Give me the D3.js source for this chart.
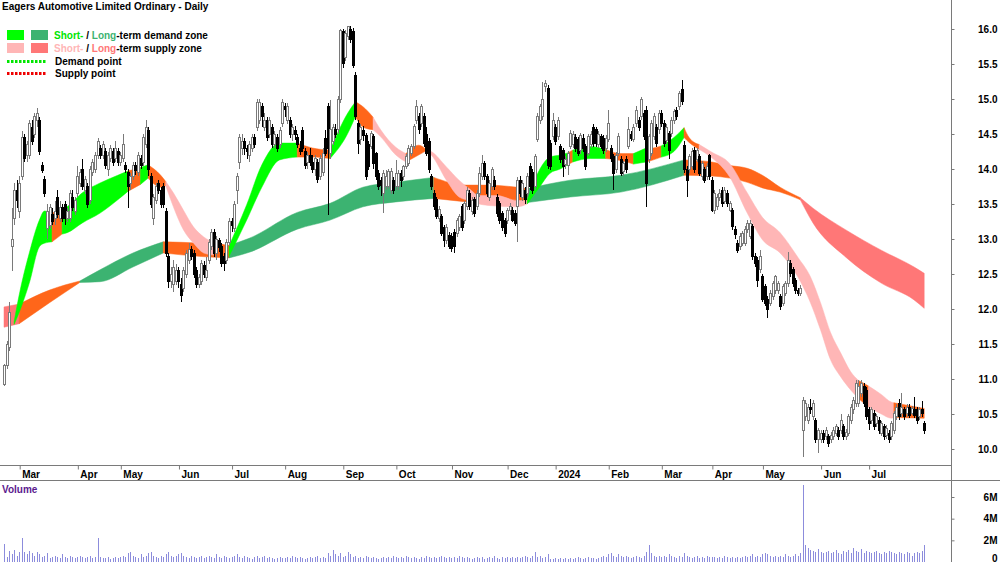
<!DOCTYPE html>
<html><head><meta charset="utf-8">
<script src="https://cdn.jsdelivr.net/npm/d3@7"></script>
<style>
body{margin:0;background:#fff}
svg{display:block}
text{font-family:"Liberation Sans",Arial,sans-serif;font-weight:bold;font-size:10px}
</style>
</head><body>
<svg id="c" width="1000" height="562"></svg>
<script>
// ---------- DATA ----------
const title = "Eagers Automotive Limited Ordinary - Daily";
const monthLabels = ["Mar","Apr","May","Jun","Jul","Aug","Sep","Oct","Nov","Dec","2024","Feb","Mar","Apr","May","Jun","Jul"];
const monthIdx    = [7,30,47,70,91,112,135,156,178,200,219,240,261,281,301,324,343];
const priceTicks  = [10,10.5,11,11.5,12,12.5,13,13.5,14,14.5,15,15.5,16];
const volTicks    = [0,2,4,6];
const volTickLabels = ["0","2M","4M","6M"];

// daily bars [open, high, low, close]  (Feb 2023 - Aug 2023)
const ohlcA = [
[10.92,11.22,10.9,11.2],[11.2,11.55,11.15,11.5],[11.45,12.1,11.4,11.95],[12.9,13.45,12.55,13.0],[13.3,13.8,13.2,13.7],
[13.7,13.85,13.45,13.55],[13.4,13.9,13.3,13.8],[13.9,14.55,13.85,14.45],[14.45,14.5,14.1,14.15],[14.2,14.4,14.1,14.35],
[14.2,14.7,14.15,14.65],[14.6,14.7,14.35,14.4],[14.5,14.8,14.45,14.75],[14.7,14.87,14.6,14.8],[14.7,14.75,14.2,14.25],
[14.05,14.1,13.95,13.98],[13.85,13.9,13.6,13.65],[13.15,13.5,13.0,13.4],[13.2,13.5,13.15,13.45],[13.35,13.45,13.2,13.25],
[13.3,13.55,13.2,13.4],[13.6,13.7,13.3,13.35],[13.3,13.55,13.25,13.45],[13.45,13.5,13.25,13.3],[13.5,13.55,13.2,13.3],
[13.3,13.45,13.25,13.4],[13.3,13.7,13.25,13.65],[13.6,13.7,13.4,13.45],[13.4,13.6,13.35,13.55],[13.65,14.05,13.6,13.9],
[13.8,14.0,13.75,13.95],[14.0,14.15,13.7,13.75],[13.7,13.9,13.65,13.85],[13.75,13.8,13.45,13.5],[13.55,14.05,13.5,14.0],
[13.95,14.15,13.9,14.1],[14.0,14.25,13.95,14.2],[14.2,14.45,14.15,14.4],[14.3,14.35,14.15,14.2],[14.2,14.4,14.15,14.35],
[14.25,14.3,14.0,14.05],[14.0,14.25,13.9,14.2],[14.15,14.35,14.1,14.3],[14.25,14.3,14.05,14.1],[14.15,14.4,14.1,14.3],
[14.25,14.3,14.05,14.1],[14.1,14.25,14.05,14.2],[14.15,14.5,14.1,14.35],[14.05,14.1,13.95,14.0],[13.95,14.0,13.45,13.75],
[13.8,13.95,13.7,13.9],[13.9,14.1,13.85,14.05],[14.05,14.1,13.92,13.98],[13.95,14.25,13.9,14.2],[14.15,14.2,14.0,14.05],
[14.1,14.5,14.05,14.45],[14.35,14.7,14.3,14.6],[14.55,14.6,13.9,14.0],[13.9,13.95,13.45,13.5],[13.3,13.65,13.2,13.6],
[13.55,13.8,13.5,13.75],[13.8,13.85,13.65,13.7],[13.7,13.75,13.45,13.5],[13.75,13.8,13.45,13.5],[13.4,13.45,12.75,12.8],
[12.75,12.8,12.3,12.4],[12.4,12.6,12.3,12.5],[12.35,12.7,12.25,12.6],[12.4,12.65,12.35,12.55],[12.55,12.6,12.3,12.4],
[12.35,12.45,12.1,12.2],[12.3,12.6,12.25,12.55],[12.5,12.85,12.45,12.8],[12.7,12.95,12.65,12.85],[12.85,12.9,12.7,12.75],
[12.8,12.85,12.45,12.5],[12.55,12.6,12.3,12.35],[12.35,12.5,12.3,12.45],[12.4,12.7,12.35,12.65],[12.62,12.68,12.45,12.5],
[12.45,12.75,12.4,12.55],[12.7,13.0,12.65,12.95],[12.9,13.15,12.85,13.1],[13.1,13.15,12.75,12.8],[12.8,13.05,12.7,13.0],
[12.98,13.02,12.82,12.88],[12.9,12.95,12.6,12.65],[12.75,12.8,12.55,12.65],[12.7,13.0,12.65,12.95],[12.95,13.3,12.9,13.25],
[13.25,13.3,13.1,13.2],[13.15,13.55,13.1,13.5],[13.7,13.95,13.5,13.9],[14.1,14.5,14.0,14.45],[14.3,14.5,14.2,14.4],
[14.4,14.45,14.2,14.3],[14.3,14.35,14.15,14.25],[14.2,14.4,14.1,14.35],[14.3,14.5,14.25,14.45],[14.45,14.5,14.3,14.35],
[14.6,15.0,14.55,14.95],[14.7,15.0,14.65,14.95],[14.9,14.95,14.6,14.75],[14.6,14.8,14.55,14.7],[14.7,14.75,14.4,14.45],
[14.5,14.75,14.45,14.7],[14.6,14.65,14.3,14.35],[14.35,14.55,14.3,14.5],[14.45,14.5,14.25,14.3],[14.35,14.6,14.3,14.55],
[14.65,15.0,14.6,14.95],[14.9,14.95,14.75,14.85],[14.7,14.95,14.65,14.9],[14.7,14.75,14.45,14.5],[14.5,14.65,14.4,14.6],
[14.55,14.62,14.42,14.5],[14.45,14.5,14.3,14.35],[14.3,14.4,14.2,14.25],[14.55,14.6,14.25,14.3],[14.25,14.3,14.0,14.05],
[14.1,14.25,14.0,14.2],[14.2,14.3,14.05,14.1],[14.1,14.2,13.95,14.0],[14.0,14.2,13.9,14.15],[14.1,14.15,13.8,13.85]
];
// (Aug 2023 - Feb 2024)
const ohlcB = [
[13.9,14.2,13.85,14.15],[13.95,14.3,13.9,14.22],[14.44,14.56,14.18,14.22],[14.9,14.95,13.34,14.3],[14.22,14.99,14.15,14.56],
[14.4,14.65,14.35,14.6],[14.56,14.65,14.45,14.49],[14.56,15.05,14.5,14.99],[14.99,16.0,14.95,15.98],[15.96,16.0,15.45,15.51],
[15.6,15.98,15.55,15.93],[15.89,16.05,15.85,16.03],[16.0,16.05,15.8,15.85],[15.97,16.02,15.45,15.48],[15.34,15.38,14.7,14.75],
[14.65,14.7,14.22,14.37],[14.42,14.65,14.35,14.6],[14.55,14.62,14.4,14.48],[14.48,14.52,13.85,13.89],[14.35,14.4,13.98,14.03],
[14.32,14.55,14.28,14.51],[14.46,14.5,14.0,14.08],[14.22,14.25,13.85,13.89],[13.94,13.98,13.7,13.75],[13.84,13.88,13.62,13.76],
[13.65,13.98,13.37,13.94],[13.75,13.99,13.7,13.89],[13.75,14.0,13.72,13.96],[13.7,14.02,13.65,13.96],[13.84,13.88,13.65,13.7],
[13.75,14.13,13.7,13.94],[13.75,13.98,13.7,13.94],[13.94,13.98,13.75,13.84],[13.89,14.06,13.85,14.03],[14.03,14.22,14.0,14.18],
[14.08,14.35,14.05,14.3],[14.22,14.36,14.18,14.32],[14.32,14.65,14.28,14.61],[14.7,14.99,14.65,14.89],[14.75,14.8,14.5,14.56],
[14.65,14.93,14.6,14.89],[14.75,14.8,14.32,14.37],[14.5,14.6,14.18,14.22],[14.4,14.45,13.95,13.99],[13.89,13.93,13.7,13.75],
[13.65,13.7,13.42,13.46],[13.56,13.6,13.28,13.32],[13.3,13.47,13.25,13.42],[13.32,13.36,13.05,13.08],[13.17,13.2,12.89,12.98],
[12.98,13.22,12.93,13.17],[13.05,13.1,12.86,12.9],[13.03,13.08,12.82,12.86],[13.1,13.15,12.8,12.89],[13.08,13.3,13.03,13.27],
[13.17,13.36,13.12,13.32],[13.46,13.5,13.12,13.17],[13.27,13.55,13.22,13.51],[13.46,13.75,13.42,13.7],[13.65,13.7,13.42,13.46],
[13.4,13.6,13.35,13.55],[13.56,13.6,13.32,13.37],[13.46,13.7,13.42,13.65],[13.65,14.03,13.6,13.94],[13.89,14.2,13.85,14.08],
[14.08,14.12,13.85,13.89],[13.89,13.93,13.6,13.65],[13.6,13.84,13.55,13.79],[13.75,14.03,13.7,13.99],[13.84,13.9,13.7,13.75],
[13.6,13.65,13.32,13.37],[13.51,13.55,13.22,13.27],[13.37,13.4,13.12,13.17],[13.27,13.3,13.03,13.08],[13.27,13.45,13.22,13.41],
[13.41,13.52,13.35,13.46],[13.41,13.46,13.25,13.27],[13.37,13.41,13.18,13.22],[13.46,13.88,12.96,13.84],[13.84,13.9,13.6,13.65],
[13.6,13.84,13.55,13.79],[13.7,13.75,13.5,13.56],[13.65,13.94,13.6,13.89],[14.03,14.08,13.7,13.75],[13.95,14.0,13.65,13.7],
[13.75,14.22,13.7,14.18],[14.42,14.8,14.38,14.75],[14.7,14.93,14.65,14.89],[14.75,15.25,14.7,14.99],[15.18,15.27,15.1,15.22],
[15.15,15.2,14.0,14.05],[14.37,14.42,13.98,14.03],[14.46,14.8,14.42,14.7],[14.6,14.65,14.35,14.4],[14.46,14.75,14.42,14.7],
[14.32,14.36,14.08,14.13],[14.27,14.3,13.89,14.03],[14.06,14.18,14.0,14.13],[14.05,14.26,13.92,14.22],[14.32,14.56,14.28,14.51],
[14.35,14.55,14.3,14.49],[14.45,14.5,14.25,14.3],[14.42,14.46,14.18,14.22],[14.27,14.52,14.22,14.48],[14.44,14.5,14.25,14.3],
[14.32,14.36,13.98,14.03],[14.22,14.5,14.18,14.46],[14.35,14.55,14.3,14.5],[14.6,14.65,14.32,14.37],[14.56,14.6,14.32,14.37],
[14.35,14.55,14.3,14.5],[14.46,14.5,14.28,14.32],[14.44,14.48,14.22,14.27],[14.3,14.48,14.25,14.44],[14.42,14.84,14.38,14.65],
[14.3,14.35,14.1,14.15],[14.18,14.22,13.7,13.94],[14.0,14.25,13.95,14.2],[14.22,14.51,14.18,14.46],[14.13,14.18,13.9,13.94],
[13.96,14.12,13.9,14.08],[14.13,14.18,13.95,13.99],[14.32,14.75,14.28,14.56],[14.5,14.55,14.4,14.44],[14.42,14.65,14.38,14.6],
[14.65,14.9,14.6,14.84],[14.7,14.75,14.55,14.6]
];
// (Feb 2024 - Jul 2024)
const ohlcC = [
[14.75,15.03,14.7,15.0],[14.8,14.85,14.42,14.46],[14.84,14.9,13.46,13.8],[14.13,14.5,14.08,14.46],[14.22,14.7,14.18,14.65],
[14.46,14.8,14.42,14.75],[14.6,14.65,14.32,14.37],[14.56,14.84,14.5,14.8],[14.8,14.85,14.6,14.65],[14.65,14.7,14.32,14.37],
[14.41,14.65,14.36,14.6],[14.51,14.55,14.15,14.27],[14.51,14.74,14.46,14.7],[14.7,14.86,14.65,14.82],[14.84,14.88,14.7,14.75],
[14.89,15.12,14.85,15.08],[15.13,15.27,14.92,14.96],[14.34,14.4,13.95,13.99],[13.99,14.05,13.6,13.84],[13.99,14.22,13.95,14.18],
[14.03,14.3,14.0,14.25],[14.27,14.32,13.95,13.99],[14.13,14.3,14.1,14.27],[14.18,14.22,13.9,13.94],[13.89,14.12,13.85,14.08],
[13.99,14.03,13.8,13.84],[13.89,14.08,13.85,14.03],[14.2,14.22,13.85,13.89],[13.84,13.88,13.38,13.41],[13.41,13.7,13.36,13.65],
[13.46,13.65,13.42,13.6],[13.6,13.72,13.55,13.65],[13.7,13.75,13.46,13.51],[13.53,13.75,13.5,13.7],[13.65,13.7,13.46,13.51],
[13.41,13.55,13.38,13.51],[13.41,13.45,13.13,13.18],[13.13,13.18,13.0,13.06],[12.94,12.99,12.8,12.84],[12.89,13.08,12.85,13.03],
[12.94,13.12,12.9,13.08],[12.94,13.18,12.9,13.13],[13.13,13.27,13.08,13.22],[13.03,13.27,13.0,13.22],[13.18,13.22,12.7,12.75],
[12.75,12.8,12.6,12.65],[12.7,12.75,12.32,12.41],[12.56,12.84,12.52,12.75],[12.46,12.5,12.1,12.13],[12.32,12.36,12.04,12.08],
[12.13,12.18,11.87,11.99],[12.08,12.27,12.04,12.22],[12.18,12.4,12.13,12.36],[12.27,12.49,12.22,12.46],[12.27,12.4,12.22,12.36],
[12.18,12.22,11.99,12.03],[12.08,12.36,12.04,12.32],[12.22,12.4,12.18,12.36],[12.36,12.82,12.32,12.7],[12.65,12.7,12.46,12.51],
[12.56,12.6,12.32,12.36],[12.41,12.45,12.22,12.27],[12.27,12.3,12.18,12.22],[12.22,12.35,12.18,12.3],
[10.27,10.75,9.89,10.7],[10.46,10.7,10.4,10.65],[10.41,10.65,10.36,10.6],[10.6,10.72,10.5,10.56],[10.46,10.7,10.42,10.65],
[10.41,10.45,10.08,10.13],[10.13,10.3,9.94,10.27],[10.13,10.27,10.08,10.22],[10.22,10.27,10.08,10.13],[10.18,10.32,10.13,10.27],
[10.18,10.22,10.03,10.08],[10.13,10.25,10.08,10.2],[10.18,10.32,10.13,10.27],[10.22,10.36,10.18,10.32],[10.27,10.32,10.13,10.18],
[10.27,10.5,10.22,10.41],[10.32,10.36,10.13,10.18],[10.18,10.28,10.13,10.24],[10.22,10.5,10.18,10.46],[10.41,10.65,10.36,10.6],
[10.56,10.75,10.5,10.7],[10.65,10.99,10.6,10.94],[10.65,10.99,10.6,10.89],[10.8,10.98,10.75,10.94],[10.89,10.94,10.6,10.65],
[10.84,10.88,10.42,10.46],[10.56,10.6,10.27,10.36],[10.41,10.6,10.36,10.56],[10.51,10.56,10.27,10.32],[10.36,10.5,10.32,10.46],
[10.41,10.46,10.22,10.27],[10.22,10.4,10.18,10.36],[10.32,10.36,10.13,10.18],[10.2,10.34,10.15,10.3],[10.22,10.27,10.08,10.13],
[10.18,10.4,10.13,10.36],[10.27,10.55,10.22,10.51],[10.46,10.65,10.42,10.6],[10.65,10.72,10.42,10.46],[10.51,10.8,10.46,10.6],
[10.56,10.6,10.42,10.46],[10.51,10.65,10.46,10.6],[10.6,10.65,10.44,10.48],[10.51,10.62,10.48,10.58],[10.56,10.75,10.44,10.48],
[10.56,10.6,10.36,10.41],[10.46,10.6,10.42,10.56],[10.56,10.68,10.46,10.51],[10.36,10.4,10.22,10.27]
];

// daily volume, millions of shares
const volume2023 = [
1.7,0.5,1.0,0.7,1.1,0.6,0.9,
2.2,0.9,0.7,1.0,0.8,0.6,0.9,0.7,0.5,0.6,0.8,0.4,0.5,0.6,0.5,0.4,0.7,0.5,0.4,0.6,0.5,0.4,0.5,
0.6,0.5,0.4,0.5,0.6,0.4,0.5,2.2,0.5,0.4,0.4,0.5,0.3,0.4,0.5,0.4,0.5,
0.6,0.5,0.8,0.9,0.6,0.5,0.4,0.7,0.5,0.6,0.8,0.9,0.6,0.5,0.4,0.6,0.5,0.7,0.9,0.6,0.5,0.6,0.7,
0.8,0.6,0.5,0.4,0.6,0.5,0.4,0.5,0.6,0.4,0.5,0.6,0.5,0.4,0.7,0.5,0.4,0.6,0.5,0.4,0.5,
0.6,0.7,0.5,0.4,0.6,0.5,0.4,0.3,0.5,0.6,0.4,0.5,0.6,0.4,0.5,0.4,0.3,0.4,0.5,0.4,0.4,
0.5,0.4,0.6,0.5,0.4,0.5,0.4,0.3,0.4,0.5,0.4,0.5,0.6,0.4,0.5,0.4,0.8,0.6,1.1,0.7,0.6,0.8,0.5,
0.6,0.9,0.7,0.5,0.6,0.4,0.5,0.4,0.6,0.5,0.4,0.5,0.4,0.3,0.4,0.5,0.4,0.5,0.4,0.6,0.5,
0.4,0.5,0.4,0.6,0.5,0.4,0.5,0.4,0.3,0.5,0.4,0.6,0.5,0.4,0.5,0.4,0.5,0.6,0.5,0.4,0.5,0.4,
0.5,0.4,0.6,0.5,0.4,0.5,0.4,0.3,0.4,0.5,0.4,0.5,0.3,0.4,0.5,0.4,0.6,0.4,0.3,0.5,0.4,0.5,
0.4,0.5,0.4,0.5,0.4,0.5,0.6,0.5,0.4,0.6,0.9,0.5,0.6,0.4,0.5,0.7,0.3,0.3,0.4
];
const volume2024 = [
0.3,0.4,0.3,0.4,0.3,0.4,0.3,0.4,0.5,0.4,0.3,0.4,0.5,0.4,0.4,0.3,0.4,0.5,0.6,0.5,0.7,
0.8,0.6,0.5,0.7,0.6,0.5,0.6,0.5,0.4,0.5,0.6,0.5,0.4,0.6,0.9,1.6,0.8,0.6,0.5,0.6,0.5,
0.6,0.5,0.7,0.6,0.5,0.4,0.6,0.5,0.8,0.6,0.5,0.4,0.5,0.6,0.4,0.5,0.4,0.6,0.5,0.5,
0.5,0.4,0.5,0.4,0.6,0.5,0.4,0.5,0.4,0.5,0.4,0.5,0.6,0.5,0.6,0.7,0.5,0.6,0.5,0.7,
0.8,0.7,0.6,0.5,0.6,0.5,0.6,0.5,0.7,0.6,0.5,0.6,0.7,0.6,0.8,7.1,1.6,1.3,1.1,1.0,0.9,1.2,0.9,
0.8,0.9,1.0,0.8,0.9,1.1,0.8,0.7,1.0,0.9,1.1,0.8,1.3,1.0,0.9,1.2,0.8,1.0,0.9,
0.8,0.9,1.0,0.8,0.7,0.9,0.8,1.0,0.9,0.8,0.7,0.9,0.8,0.7,0.9,0.8,0.6,0.8,0.9,0.8,1.0,1.6
];

// short-term zone: bar index, upper, lower, type (G demand, P supply, O mixed)
const stIdx = [4,6,10,14,16,19,23,25,31,38,45,49,54,57,62,64,67,71,75,79,83,89,96,102,109,116,122,129,136,139,142,146,149,155,159,164,167,169,175,180,184,188,195,203,207,212,216,220,223,225,232,238,244,249,254,256,260,265,269,271,275,280,287,294,300,307,314,319,323,327,331,335,338,342,347,351,352,364];
const stHi  = [11.82,12.2,12.8,13.27,13.4,13.37,13.42,13.46,13.66,13.8,13.91,13.97,14.02,14.06,13.91,13.82,13.66,13.41,13.17,13.03,12.95,12.9,13.49,14.06,14.37,14.37,14.3,14.27,14.8,14.96,14.89,14.74,14.56,14.31,14.22,14.34,14.28,14.25,14.03,13.84,13.72,13.62,13.62,13.55,13.55,14.0,14.17,14.2,14.23,14.27,14.32,14.28,14.22,14.22,14.3,14.3,14.33,14.45,14.59,14.45,14.35,14.24,14.08,13.66,13.31,13.09,12.74,12.46,12.09,11.66,11.37,11.1,10.98,10.9,10.78,10.67,10.66,10.58];
const stLo  = [11.78,11.95,12.37,12.89,12.94,12.96,13.07,13.09,13.23,13.37,13.56,13.68,13.78,13.87,13.74,13.76,13.46,13.13,12.94,12.8,12.77,12.75,13.27,13.74,14.13,14.17,14.17,14.15,14.51,14.75,14.6,14.56,14.46,14.2,14.1,14.2,14.26,14.2,13.84,13.6,13.55,13.5,13.47,13.46,13.5,13.75,13.94,14.0,14.06,14.1,14.15,14.15,14.12,14.07,14.1,14.12,14.17,14.25,14.45,14.38,14.28,14.16,13.89,13.37,12.99,12.8,12.46,12.09,11.7,11.27,11.03,10.84,10.72,10.6,10.5,10.44,10.45,10.44];
const stType= ["G","G","G","G","G","O","G","G","G","G","G","O","G","O","O","P","P","P","P","P","O","G","G","G","G","O","O","G","G","O","O","P","P","P","O","O","P","P","P","P","P","P","P","P","G","G","G","G","O","G","G","O","O","G","O","O","G","G","O","O","P","P","P","P","P","P","P","P","P","P","P","P","O","P","P","P","O","O"];

// long-term zone: bar index, upper, lower, type (D demand, S supply, O mixed)
const ltIdx = [0,6,18,30,38,51,63,78,89,97,116,129,142,155,170,183,191,207,224,244,269,280,287,294,300,307,315,320,333,347,360,364];
const ltHi  = [12.03,12.07,12.27,12.4,12.56,12.8,12.96,12.94,12.91,13.01,13.38,13.51,13.74,13.81,13.88,13.77,13.77,13.72,13.84,13.91,14.13,14.1,14.05,14.01,13.91,13.74,13.59,13.44,13.13,12.84,12.6,12.51];
const ltLo  = [11.74,11.79,12.09,12.38,12.39,12.6,12.8,12.75,12.73,12.81,13.14,13.27,13.46,13.53,13.58,13.53,13.5,13.52,13.6,13.67,13.91,13.9,13.87,13.81,13.73,13.67,13.56,13.23,12.74,12.37,12.13,12.01];
const ltType= ["S","O","O","D","D","D","O","O","D","D","D","D","D","D","O","O","O","D","D","D","O","O","O","O","O","O","S","S","S","S","S","S"];

// ---------- DRAW ----------
const svg = d3.select("#c");
const W = 1000, H = 562, axisX = 951.5;
const ohlc = ohlcA.concat(ohlcB, ohlcC);
const volume = volume2023.concat(volume2024);

const x = d3.scaleLinear().domain([0, 364]).range([4, 924.2]);
const y = d3.scaleLinear().domain([10, 16]).range([449, 29]);
const yv = d3.scaleLinear().domain([0, 6]).range([562, 497]);

const zoneColor = {G:"#00ff00", D:"#3cb371", P:"#ffb6b6", S:"#ff7777", O:"#ff661a"};

svg.append("defs").append("clipPath").attr("id","pc")
  .append("rect").attr("x",0).attr("y",0).attr("width",axisX).attr("height",465);
const plot = svg.append("g").attr("clip-path","url(#pc)");

const area = d3.area().x(d=>x(d.i)).y0(d=>y(d.lo)).y1(d=>y(d.hi)).curve(d3.curveMonotoneX);
function drawBand(idx, hi, lo, type){
  const pts = idx.map((d,k)=>({i:d, hi:hi[k], lo:lo[k], t:type[k]}));
  let k = 0;
  while (k < pts.length-1){
    let j = k;
    while (j+1 < pts.length-1 && pts[j+1].t === pts[k].t) j++;
    const run = pts.slice(k, j+2);
    plot.append("path").datum(run).attr("d", area)
      .attr("fill", zoneColor[pts[k].t]).attr("stroke", zoneColor[pts[k].t]).attr("stroke-width",0.5);
    k = j+1;
  }
}
drawBand(ltIdx, ltHi, ltLo, ltType);
drawBand(stIdx, stHi, stLo, stType);

// candles
const cg = plot.append("g").attr("shape-rendering","crispEdges");
ohlc.forEach((d,i)=>{
  const [o,h,l,c] = d;
  const px = Math.round(x(i));
  const up = c >= o;
  const col = up ? "#7a7a7a" : "#000";
  const top = Math.max(h,o,c), bot = Math.min(l,o,c);
  cg.append("line").attr("x1",px+0.5).attr("x2",px+0.5)
    .attr("y1",y(top)).attr("y2",y(bot)).attr("stroke",col).attr("stroke-width",1);
  const yb = y(Math.max(o,c)), ye = y(Math.min(o,c));
  cg.append("rect").attr("x",px-0.5).attr("y",yb).attr("width",2)
    .attr("height",Math.max(ye-yb,1)).attr("fill",up?"#fff":"#000")
    .attr("stroke",col).attr("stroke-width",1);
});

// volume bars
const vg = svg.append("g").attr("shape-rendering","crispEdges");
volume.forEach((v,i)=>{
  const px = Math.round(x(i));
  vg.append("rect").attr("x",px).attr("y",yv(v)).attr("width",1)
    .attr("height",yv(0)-yv(v)).attr("fill","#8c8cdc");
});

// frame lines
const fr = svg.append("g").attr("shape-rendering","crispEdges").attr("stroke","#7a7a7a");
fr.append("line").attr("x1",axisX).attr("x2",axisX).attr("y1",0).attr("y2",H);
fr.append("line").attr("x1",0).attr("x2",axisX).attr("y1",465.5).attr("y2",465.5);
fr.append("line").attr("x1",0).attr("x2",W).attr("y1",480.5).attr("y2",480.5);

const fontFam = '"Liberation Sans",Arial,sans-serif';
// price axis
const pa = svg.append("g").attr("transform",`translate(${axisX},0)`)
  .call(d3.axisRight(y).tickValues(priceTicks).tickSize(3).tickFormat(d3.format(".1f")));
pa.select(".domain").remove();
pa.selectAll("line").attr("stroke","#7a7a7a");
pa.selectAll("text").attr("x",46).attr("text-anchor","end").attr("fill","#000")
  .style("font-size","10px").style("font-weight","bold").style("font-family",fontFam);

// volume axis
const va = svg.append("g").attr("transform",`translate(${axisX},0)`)
  .call(d3.axisRight(yv).tickValues(volTicks).tickSize(3).tickFormat((d,k)=>volTickLabels[k]));
va.select(".domain").remove();
va.selectAll("line").attr("stroke","#7a7a7a");
va.selectAll("text").attr("x",46).attr("text-anchor","end").attr("fill","#000")
  .style("font-size","10px").style("font-weight","bold").style("font-family",fontFam)
  .attr("dy", (d)=> d===0 ? "-0.1em" : "0.32em");

// month axis
const ma = svg.append("g").attr("transform","translate(0,465.5)")
  .call(d3.axisBottom(x).tickValues(monthIdx).tickSize(4).tickFormat((d,k)=>monthLabels[k]));
ma.select(".domain").remove();
ma.selectAll("line").attr("stroke","#7a7a7a").attr("transform","translate(-2,0)");
ma.selectAll("text").attr("text-anchor","start").attr("x",0).attr("y",5).attr("fill","#000")
  .style("font-size","10px").style("font-weight","bold").style("font-family",fontFam);

// title
svg.append("text").attr("x",2).attr("y",10).attr("fill","#000").text(title);

// legend
const lg = svg.append("g");
lg.append("rect").attr("x",7).attr("y",30).attr("width",17).attr("height",10).attr("fill",zoneColor.G);
lg.append("rect").attr("x",31).attr("y",30).attr("width",17).attr("height",10).attr("fill",zoneColor.D);
lg.append("rect").attr("x",7).attr("y",43).attr("width",17).attr("height",10).attr("fill",zoneColor.P);
lg.append("rect").attr("x",31).attr("y",43).attr("width",17).attr("height",10).attr("fill",zoneColor.S);
const t1 = lg.append("text").attr("x",54).attr("y",38.5);
t1.append("tspan").attr("fill","#00e600").text("Short-");
t1.append("tspan").attr("fill","#000").text(" / ");
t1.append("tspan").attr("fill",zoneColor.D).text("Long");
t1.append("tspan").attr("fill","#000").text("-term demand zone");
const t2 = lg.append("text").attr("x",54).attr("y",51.5);
t2.append("tspan").attr("fill",zoneColor.P).text("Short-");
t2.append("tspan").attr("fill","#000").text(" / ");
t2.append("tspan").attr("fill",zoneColor.S).text("Long");
t2.append("tspan").attr("fill","#000").text("-term supply zone");
lg.append("line").attr("x1",7).attr("x2",46).attr("y1",61.5).attr("y2",61.5)
  .attr("stroke","#00e600").attr("stroke-width",3).attr("stroke-dasharray","2.5,1.5");
lg.append("line").attr("x1",7).attr("x2",46).attr("y1",73.5).attr("y2",73.5)
  .attr("stroke","#ee0000").attr("stroke-width",3).attr("stroke-dasharray","2.5,1.5");
lg.append("text").attr("x",55).attr("y",65).attr("fill","#000").text("Demand point");
lg.append("text").attr("x",55).attr("y",77).attr("fill","#000").text("Supply point");

// volume label
svg.append("text").attr("x",2).attr("y",493).attr("fill","#5b1a8e").text("Volume");
</script>
</body></html>
